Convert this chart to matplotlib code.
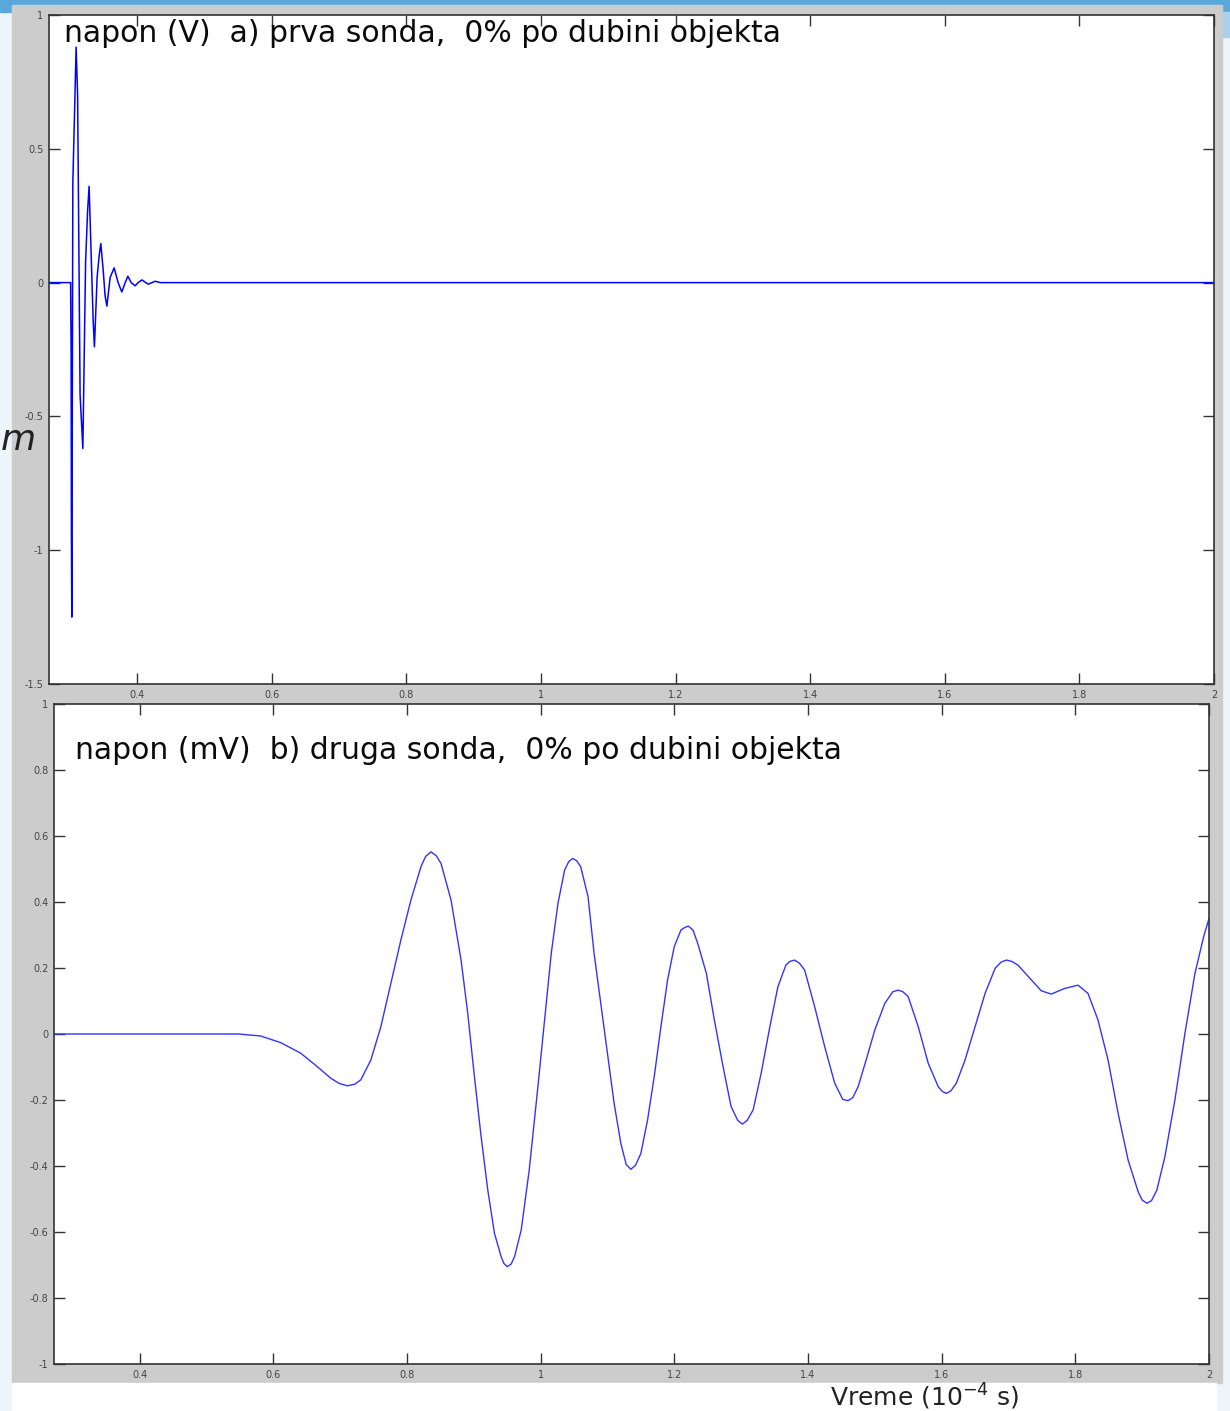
import numpy as np
import matplotlib
matplotlib.use("Agg")
import matplotlib.pyplot as plt
from matplotlib.patches import Rectangle

# --- data ---
# a) first probe, volts, time in 1e-4 s
t_a = [0.269, 0.3011, 0.3019, 0.3023, 0.3029, 0.3044, 0.3093, 0.3115, 0.3152, 0.3193,
       0.3234, 0.3264, 0.3286, 0.3323, 0.3346, 0.3365, 0.3405, 0.3435, 0.3460, 0.3494,
       0.3524, 0.3550, 0.3599, 0.3658, 0.3717, 0.3772, 0.3822, 0.3862, 0.3911, 0.3970,
       0.4015, 0.4070, 0.4164, 0.4268, 0.4342, 2.0]
v_a = [0.0, 0.0, -0.26, -0.94, -1.25, 0.37, 0.88, 0.70, -0.42, -0.62,
       0.08, 0.27, 0.36, 0.05, -0.14, -0.24, 0.02, 0.10, 0.146, 0.05,
       -0.05, -0.088, 0.02, 0.055, 0.0, -0.035, 0.0, 0.024, 0.0, -0.012,
       0.0, 0.01, -0.006, 0.005, 0.0, 0.0]

# b) second probe, millivolts
t_b = [0.272, 0.548, 0.581, 0.611, 0.641, 0.666, 0.686, 0.699, 0.711, 0.722,
       0.731, 0.746, 0.761, 0.776, 0.791, 0.806, 0.821, 0.828, 0.836, 0.844,
       0.851, 0.866, 0.881, 0.891, 0.901, 0.911, 0.921, 0.931, 0.941, 0.945,
       0.950, 0.956, 0.961, 0.971, 0.983, 0.996, 1.006, 1.016, 1.026, 1.036,
       1.042, 1.048, 1.054, 1.060, 1.071, 1.080, 1.090, 1.100, 1.110, 1.120,
       1.128, 1.135, 1.142, 1.150, 1.160, 1.170, 1.180, 1.190, 1.200, 1.210,
       1.215, 1.221, 1.228, 1.235, 1.248, 1.260, 1.273, 1.285, 1.295, 1.302,
       1.309, 1.318, 1.330, 1.343, 1.355, 1.367, 1.373, 1.380, 1.387, 1.395,
       1.410, 1.425, 1.440, 1.452, 1.460, 1.467, 1.475, 1.487, 1.500, 1.515,
       1.527, 1.535, 1.542, 1.550, 1.565, 1.580, 1.595, 1.601, 1.607, 1.614,
       1.622, 1.635, 1.650, 1.665, 1.680, 1.689, 1.697, 1.705, 1.714, 1.732,
       1.749, 1.764, 1.784, 1.804, 1.819, 1.834, 1.849, 1.864, 1.879, 1.894,
       1.900, 1.907, 1.914, 1.922, 1.934, 1.949, 1.964, 1.979, 1.992, 2.0]
v_b = [0.0, 0.0, -0.006, -0.026, -0.058, -0.099, -0.134, -0.150, -0.157, -0.152,
       -0.139, -0.079, 0.022, 0.154, 0.285, 0.406, 0.507, 0.538, 0.552, 0.540,
       0.517, 0.406, 0.224, 0.063, -0.129, -0.311, -0.473, -0.604, -0.675, -0.695,
       -0.705, -0.697, -0.675, -0.594, -0.412, -0.159, 0.042, 0.245, 0.396, 0.497,
       0.522, 0.532, 0.525, 0.507, 0.416, 0.245, 0.093, -0.058, -0.210, -0.331,
       -0.395, -0.410, -0.398, -0.362, -0.261, -0.129, 0.022, 0.164, 0.265, 0.315,
       0.322, 0.327, 0.315, 0.275, 0.184, 0.042, -0.099, -0.220, -0.262, -0.273,
       -0.262, -0.230, -0.119, 0.022, 0.143, 0.209, 0.220, 0.224, 0.215, 0.194,
       0.083, -0.038, -0.149, -0.198, -0.202, -0.193, -0.160, -0.079, 0.012, 0.093,
       0.128, 0.133, 0.128, 0.113, 0.022, -0.089, -0.160, -0.174, -0.180, -0.172,
       -0.149, -0.079, 0.022, 0.123, 0.199, 0.218, 0.224, 0.220, 0.209, 0.169,
       0.131, 0.121, 0.138, 0.148, 0.123, 0.042, -0.079, -0.240, -0.382, -0.478,
       -0.503, -0.513, -0.505, -0.473, -0.372, -0.200, 0.002, 0.184, 0.295, 0.350]

x_ticks = [0.4, 0.6, 0.8, 1.0, 1.2, 1.4, 1.6, 1.8, 2.0]
x_labels = ["0.4", "0.6", "0.8", "1", "1.2", "1.4", "1.6", "1.8", "2"]
ya_ticks = [-1.5, -1.0, -0.5, 0.0, 0.5, 1.0]
ya_labels = ["-1.5", "-1", "-0.5", "0", "0.5", "1"]
yb_ticks = [-1.0, -0.8, -0.6, -0.4, -0.2, 0.0, 0.2, 0.4, 0.6, 0.8, 1.0]
yb_labels = ["-1", "-0.8", "-0.6", "-0.4", "-0.2", "0", "0.2", "0.4", "0.6", "0.8", "1"]

title_a = "napon (V)  a) prva sonda,  0% po dubini objekta"
title_b = "napon (mV)  b) druga sonda,  0% po dubini objekta"

W, H = 1230, 1411
fig = plt.figure(figsize=(W / 100, H / 100), dpi=100)
fig.patch.set_facecolor("#edf4fa")


def px_rect(left, top, right, bottom):
    # pixel box -> figure fraction
    return [left / W, (H - bottom) / H, (right - left) / W, (bottom - top) / H]


# slide background + grey matlab figure frame
bg = fig.add_axes([0, 0, 1, 1], zorder=-10)
bg.add_patch(Rectangle((0, 0), W, 12, color="#5aa8da"))
bg.add_patch(Rectangle((1222, 12), 8, 25, color="#a9d0ec"))
bg.add_patch(Rectangle((12, 5), 1210, 1378, color="#cccccc"))
bg.add_patch(Rectangle((12, 1383), 1204, 28, color="white"))
bg.set_xlim(0, W)
bg.set_ylim(H, 0)
bg.axis("off")
# leftover slide text peeking out behind the figure
bg.text(1, 440, "m", fontsize=26, style="italic", ha="left", va="center", color="#222222")


def style_axes(ax, yt, yl):
    ax.set_facecolor("white")
    ax.set_xticks(x_ticks)
    ax.set_xticklabels(x_labels)
    ax.set_yticks(yt)
    ax.set_yticklabels(yl)
    ax.tick_params(direction="in", length=8, width=1, top=True, right=True,
                   labelsize=7, labelcolor="#444444", color="#333333", pad=4)
    for s in ax.spines.values():
        s.set_color("#333333")
        s.set_linewidth(1.2)


ax1 = fig.add_axes(px_rect(49, 15, 1214, 684))
ax1.plot(t_a, v_a, color="#0000ff", lw=1.1)
ax1.set_xlim(0.269, 2.0)
ax1.set_ylim(-1.5, 1.0)
style_axes(ax1, ya_ticks, ya_labels)
ax1.text(0.013, 0.973, title_a, transform=ax1.transAxes, fontsize=21.5,
         ha="left", va="center", color="#0a0a0a")

ax2 = fig.add_axes(px_rect(54, 704, 1209, 1364))
ax2.plot(t_b, v_b, color="#3333ff", lw=1.0)
ax2.set_xlim(0.272, 2.0)
ax2.set_ylim(-1.0, 1.0)
style_axes(ax2, yb_ticks, yb_labels)
ax2.text(0.018, 0.93, title_b, transform=ax2.transAxes, fontsize=21.5,
         ha="left", va="center", color="#0a0a0a")

fig.text(925 / W, 1 - 1397 / H, "Vreme (10$^{-4}$ s)", fontsize=18,
         ha="center", va="center", color="#222222")

fig.savefig("out.png", dpi=100, facecolor=fig.get_facecolor())
